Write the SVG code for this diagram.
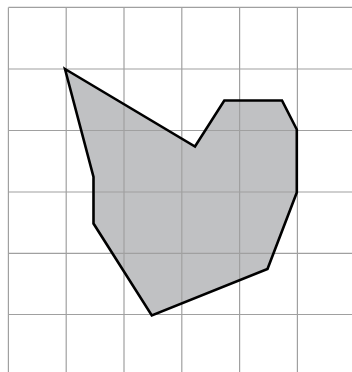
<svg xmlns="http://www.w3.org/2000/svg" width="352" height="372" viewBox="0 0 352 372">
<style>
.grid line{stroke:#a0a0a0;stroke-width:1.2}
</style>
<rect width="352" height="372" fill="#ffffff"/>
<polygon id="shape-fill" points="65,69 195,146.5 224.3,100.5 282,100.5 296.8,129.5 296.8,192.5 267.5,269 151.8,315.5 93.5,223.5 93.5,177" fill="#c0c1c3"/>
<g class="grid">
<line x1="8.4" y1="7.4" x2="8.4" y2="372"/>
<line x1="66.2" y1="7.4" x2="66.2" y2="372"/>
<line x1="124" y1="7.4" x2="124" y2="372"/>
<line x1="181.8" y1="7.4" x2="181.8" y2="372"/>
<line x1="239.6" y1="7.4" x2="239.6" y2="372"/>
<line x1="297.4" y1="7.4" x2="297.4" y2="372"/>
<line x1="8.4" y1="7.4" x2="352" y2="7.4"/>
<line x1="8.4" y1="69" x2="352" y2="69"/>
<line x1="8.4" y1="130.5" x2="352" y2="130.5"/>
<line x1="8.4" y1="192" x2="352" y2="192"/>
<line x1="8.4" y1="253.3" x2="352" y2="253.3"/>
<line x1="8.4" y1="314.5" x2="352" y2="314.5"/>
</g>
<polygon id="shape-outline" points="65,69 195,146.5 224.3,100.5 282,100.5 296.8,129.5 296.8,192.5 267.5,269 151.8,315.5 93.5,223.5 93.5,177" fill="none" stroke="#000000" stroke-width="2.6" stroke-linejoin="miter"/>
</svg>
